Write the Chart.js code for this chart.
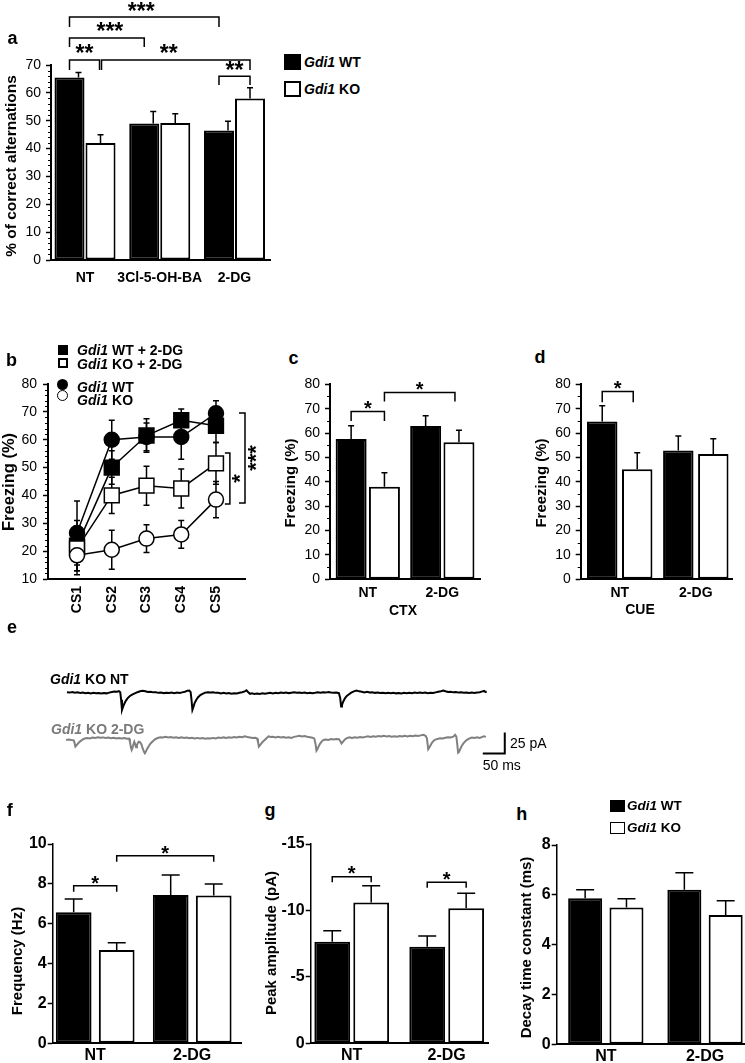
<!DOCTYPE html>
<html><head><meta charset="utf-8">
<script src="https://cdn.jsdelivr.net/npm/chart.js@4.4.0/dist/chart.umd.min.js"></script>
<style>
html,body{margin:0;padding:0;background:#fff;}
body{width:745px;height:1063px;position:relative;overflow:hidden;font-family:"Liberation Sans",Arial,Helvetica,sans-serif;color:#000;}
canvas{position:absolute;}
.lb{position:absolute;white-space:nowrap;line-height:1;}
.sq{position:absolute;box-sizing:border-box;}
</style></head><body>
<script>
// ---------------- DATA ----------------
// Panel a: spontaneous alternation
const aCategories = ['NT', '3Cl-5-OH-BA', '2-DG'];
const aWT = [65.5, 49, 46.5];
const aWTErr = [1.8, 4.3, 3.3];
const aKO = [42, 49.2, 58];
const aKOErr = [3, 3.3, 3.8];
// Panel b: freezing across CS presentations
const bCategories = ['CS1', 'CS2', 'CS3', 'CS4', 'CS5'];
const bWT2DG = [22, 50, 61.5, 67, 65];
const bWT2DGErr = [9, 6, 6, 4, 6];
const bKO2DG = [21, 40, 43.5, 42.5, 51.5];
const bKO2DGErr = [8, 6.5, 7, 7, 7.5];
const bWT = [26.5, 60, 61, 61, 69.5];
const bWTErr = [11.5, 7, 5, 8, 4.5];
const bKO = [18.5, 20.5, 24.5, 26, 38.5];
const bKOErr = [7, 7, 5, 5, 6.5];
// Panels c, d: contextual / cued freezing
const cdCategories = ['NT', '2-DG'];
const cWT = [57.6, 62.9];
const cWTErr = [5.4, 4.2];
const cKO = [38, 56.2];
const cKOErr = [5.7, 4.9];
const dWT = [64.7, 52.8];
const dWTErr = [6.5, 6];
const dKO = [45.1, 51.4];
const dKOErr = [6.8, 6.3];
// Panels f, g, h: mIPSC properties
const fghCategories = ['NT', '2-DG'];
const fWT = [6.57, 7.44];
const fWTErr = [0.67, 1.0];
const fKO = [4.68, 7.41];
const fKOErr = [0.37, 0.58];
const gWT = [-7.65, -7.27];
const gWTErr = [0.82, 0.8];
const gKO = [-10.6, -10.16];
const gKOErr = [1.26, 1.13];
const hWT = [5.86, 6.2];
const hWTErr = [0.34, 0.69];
const hKO = [5.49, 5.19];
const hKOErr = [0.35, 0.57];
// Panel e: example traces [time ms, current pA]
const traceNT = [[0,1.0],[6,0.5],[12,1.2],[18,0.3],[24,0.8],[30,0.0],[36,0.6],[42,-0.2],[48,0.4],[54,-0.5],[60,0.2],[66,-0.3],[72,0.1],[78,-0.6],[84,0.0],[90,-0.4],[96,0.5],[102,1.2],[108,1.8],[114,1.5],[118,2.2],[121,1.0],[123,-8],[125,-20],[127,-17],[130,-13],[134,-9],[138,-6],[143,-3.5],[148,-2],[154,-0.5],[160,1.0],[166,2.0],[172,2.6],[178,2.0],[184,1.2],[190,1.6],[196,0.8],[202,1.0],[208,0.2],[214,0.6],[220,-0.1],[226,0.4],[232,0.0],[238,0.6],[244,-0.2],[250,0.5],[256,0.1],[262,0.8],[268,1.5],[274,2.8],[278,3.0],[281,1.0],[283,-8],[285,-20],[287,-17],[290,-12],[294,-8],[298,-5],[303,-2.5],[308,-1],[314,0.5],[320,1.0],[326,0.6],[332,0.9],[338,0.2],[344,0.4],[350,-0.5],[356,0.2],[362,-0.6],[368,0.0],[374,-0.8],[380,-0.2],[386,-0.6],[392,0.4],[398,1.0],[404,2.0],[408,3.2],[412,0.8],[416,-1.0],[420,-0.3],[426,-1.2],[432,-0.5],[438,-1.0],[444,-0.2],[450,-0.8],[456,-0.3],[462,0.2],[468,-0.4],[474,0.3],[480,-0.2],[486,0.5],[492,0.0],[498,0.6],[504,-0.1],[510,0.4],[516,0.9],[522,0.3],[528,0.7],[534,0.1],[540,0.5],[546,-0.2],[552,0.3],[558,-0.3],[564,0.2],[570,0.8],[576,0.4],[582,1.0],[588,0.5],[594,1.2],[600,0.6],[606,0.2],[612,0.5],[618,-0.2],[621,-6],[623,-16],[625,-14],[628,-10],[632,-6],[636,-3.5],[641,-1.5],[646,0.5],[652,2.0],[658,3.0],[664,2.0],[670,1.6],[676,0.8],[682,1.5],[688,0.6],[694,1.0],[700,0.2],[706,0.7],[712,0.0],[718,0.4],[724,-0.3],[730,0.3],[736,-0.2],[742,0.4],[748,-0.4],[754,0.1],[760,-0.5],[766,0.2],[772,-0.3],[778,0.3],[784,-0.2],[790,0.5],[796,0.0],[802,0.6],[808,0.1],[814,0.5],[820,-0.2],[826,0.3],[832,0.0],[838,0.8],[844,1.5],[850,2.2],[855,3.0],[860,2.2],[866,1.2],[872,1.6],[878,0.8],[884,1.2],[890,0.5],[896,0.8],[902,0.2],[908,0.7],[914,0.0],[920,0.5],[926,0.1],[932,0.6],[938,1.0],[944,2.0],[948,2.5],[951,1.2],[954,1.5]];
const trace2DG = [[-2,-0.8],[4,-0.4],[10,-0.9],[15,-1.2],[17,-4],[19,-8.7],[22,-7],[26,-4.5],[30,-2.5],[35,-0.5],[40,0.8],[46,1.4],[52,1.0],[58,2.0],[64,1.6],[70,2.4],[76,1.8],[82,2.2],[88,1.4],[94,2.0],[100,1.2],[106,1.8],[112,1.0],[118,1.6],[124,1.0],[130,1.4],[136,0.6],[141,0.8],[143,-3],[145,-9],[147,-12.7],[149,-10],[151,-6],[153,-3],[155,-6],[157,-9.5],[159,-7],[161,-4.5],[163,-3],[166,-3.5],[169,-6],[172,-11],[175,-15],[177,-16.7],[179,-15],[182,-11.5],[186,-8],[190,-5],[195,-2.5],[200,0.0],[206,1.5],[212,2.4],[218,2.0],[224,2.8],[230,2.2],[236,2.6],[242,1.8],[248,2.4],[254,1.6],[260,2.2],[266,1.4],[272,2.0],[278,1.2],[284,1.8],[290,1.0],[296,1.6],[302,0.8],[308,1.4],[314,0.6],[320,1.2],[326,0.8],[332,1.6],[338,1.0],[344,2.0],[350,1.4],[356,2.2],[362,1.6],[368,2.4],[374,1.8],[380,2.6],[386,2.0],[392,3.0],[398,2.4],[404,3.4],[410,2.6],[416,2.0],[422,1.4],[428,1.8],[432,0.8],[434,-3],[436,-8.7],[438,-7.5],[441,-5.5],[444,-3.5],[448,-1.5],[453,1.0],[458,3.5],[463,2.6],[468,3.0],[474,2.2],[480,2.8],[486,2.0],[492,2.6],[498,1.8],[504,2.4],[510,1.6],[516,2.8],[522,3.4],[528,4.0],[534,3.4],[540,3.8],[546,3.0],[552,2.4],[558,1.8],[562,1.0],[565,-6],[567,-13.6],[569,-12],[572,-8.5],[575,-5.5],[579,-2.5],[583,-0.8],[588,-0.2],[594,-0.8],[600,0.2],[606,-0.4],[612,0.4],[618,0.0],[621,-2],[624,-5],[627,-3],[631,-0.5],[636,1.4],[642,2.2],[648,1.6],[654,2.4],[660,1.8],[666,2.6],[672,2.0],[678,2.8],[684,3.4],[690,2.8],[696,3.6],[702,3.0],[708,3.8],[714,3.2],[720,4.0],[726,3.4],[732,3.8],[738,3.0],[744,3.6],[750,3.0],[756,3.8],[762,3.2],[768,4.0],[774,3.4],[780,4.2],[786,3.6],[792,4.4],[798,3.8],[804,4.6],[810,5.2],[815,4.0],[818,1.0],[821,-12],[823,-10.5],[826,-7.5],[829,-4.5],[833,-2],[836,-0.8],[842,0.4],[848,1.2],[854,0.8],[860,1.8],[866,2.4],[872,2.0],[878,3.0],[882,5.2],[885,3.0],[887,-6],[889,-16],[891,-15],[894,-11.5],[897,-8],[901,-5],[905,-2.5],[909,-0.8],[914,0.8],[920,2.0],[926,1.4],[932,2.4],[938,1.6],[944,2.8],[948,3.6],[952,2.8]];
const scaleBarMs = 50;
const scaleBarPA = 25;

// ---------------- HELPERS ----------------
const FONT = '"Liberation Sans", Arial, Helvetica, sans-serif';
Chart.defaults.font.family = FONT;
Chart.defaults.color = '#000';

function mkCanvas(box) {
  const c = document.createElement('canvas');
  c.width = box.w; c.height = box.h;
  c.style.left = box.x + 'px'; c.style.top = box.y + 'px';
  c.style.width = box.w + 'px'; c.style.height = box.h + 'px';
  document.body.appendChild(c);
  return c;
}
function padOf(box, area) {
  return {left: 0, right: box.x + box.w - area.r, top: area.t - box.y, bottom: 0};
}
function drawStars(ctx, text, cx, cy, font, rot) {
  ctx.save();
  ctx.font = font; ctx.fillStyle = '#000'; ctx.textAlign = 'center'; ctx.textBaseline = 'alphabetic';
  const m = ctx.measureText(text);
  const off = (m.actualBoundingBoxAscent - m.actualBoundingBoxDescent) / 2;
  ctx.translate(cx, cy);
  if (rot) ctx.rotate(rot);
  ctx.fillText(text, 0, off);
  ctx.restore();
}
function drawErrors(chart, cfg) {
  const ctx = chart.ctx, ys = chart.scales.y;
  ctx.save(); ctx.strokeStyle = '#000'; ctx.lineWidth = cfg.errW; ctx.lineCap = 'butt';
  chart.data.datasets.forEach((ds, di) => {
    if (!ds.errors) return;
    chart.getDatasetMeta(di).data.forEach((el, i) => {
      const v = ds.data[i].y, e = ds.errors[i];
      const x = el.x + (ds.errDx || 0);
      const hw = cfg.capW / 2;
      ctx.beginPath();
      if (cfg.twoSided) {
        const y1 = ys.getPixelForValue(v - e), y2 = ys.getPixelForValue(v + e);
        ctx.moveTo(x, y1); ctx.lineTo(x, y2);
        ctx.moveTo(x - hw, y1); ctx.lineTo(x + hw, y1);
        ctx.moveTo(x - hw, y2); ctx.lineTo(x + hw, y2);
      } else {
        const sg = v < 0 ? -1 : 1;
        const yt = ys.getPixelForValue(v + sg * e);
        ctx.moveTo(x, el.y); ctx.lineTo(x, yt);
        ctx.moveTo(x - hw, yt); ctx.lineTo(x + hw, yt);
      }
      ctx.stroke();
    });
  });
  ctx.restore();
}
function drawMinor(chart, cfg) {
  if (!cfg.minor) return;
  const ys = chart.scales.y, ctx = chart.ctx, x0 = chart.chartArea.left;
  ctx.save(); ctx.strokeStyle = '#000'; ctx.lineWidth = 1;
  for (let v = ys.min; v <= ys.max + 1e-9; v += cfg.minor) {
    const r = Math.abs(v / cfg.y.step - Math.round(v / cfg.y.step));
    if (r < 1e-6) continue;
    const y = Math.round(ys.getPixelForValue(v)) + 0.5;
    ctx.beginPath(); ctx.moveTo(x0 - cfg.minorLen, y); ctx.lineTo(x0, y); ctx.stroke();
  }
  ctx.restore();
}
function drawBrackets(chart, cfg) {
  const ctx = chart.ctx, ys = chart.scales.y;
  ctx.save(); ctx.strokeStyle = '#000'; ctx.lineWidth = cfg.brW;
  (cfg.brackets || []).forEach(b => {
    const xa = chart.getDatasetMeta(b.from[0]).data[b.from[1]].x + (b.dxFrom || 0);
    const xb = chart.getDatasetMeta(b.to[0]).data[b.to[1]].x + (b.dxTo || 0);
    const yl = ys.getPixelForValue(b.level);
    const ya = ys.getPixelForValue(b.dropFrom !== undefined ? b.dropFrom : b.drop);
    const yb = ys.getPixelForValue(b.dropTo !== undefined ? b.dropTo : b.drop);
    ctx.beginPath(); ctx.moveTo(xa, ya); ctx.lineTo(xa, yl); ctx.lineTo(xb, yl); ctx.lineTo(xb, yb); ctx.stroke();
    drawStars(ctx, b.text, (xa + xb) / 2 + (b.sdx || 0), yl - cfg.starGap, cfg.starFont, 0);
  });
  (cfg.vbrackets || []).forEach(b => {
    const xs = chart.scales.x;
    const x = xs.getPixelForValue(b.x);
    const y1 = ys.getPixelForValue(b.y1), y2 = ys.getPixelForValue(b.y2);
    ctx.beginPath(); ctx.moveTo(x - b.tick, y1); ctx.lineTo(x, y1); ctx.lineTo(x, y2); ctx.lineTo(x - b.tick, y2); ctx.stroke();
    drawStars(ctx, b.text, x + b.tdx, (y1 + y2) / 2 + (b.tdy || 0), cfg.starFont, -Math.PI / 2);
  });
  ctx.restore();
}
function drawTitle(chart, cfg) {
  const t = cfg.yTitle; if (!t) return;
  const ctx = chart.ctx;
  ctx.save();
  ctx.font = 'bold ' + t.size + 'px ' + FONT; ctx.fillStyle = '#000';
  ctx.textAlign = 'center'; ctx.textBaseline = 'middle';
  ctx.translate(t.x - cfg.box.x, t.y - cfg.box.y); ctx.rotate(-Math.PI / 2);
  ctx.fillText(t.text, 0, 0);
  ctx.restore();
}
function decorPlugin(cfg) {
  return {
    id: 'decor',
    beforeDatasetsDraw(chart) { if (cfg.errBehind) drawErrors(chart, cfg); },
    afterDatasetsDraw(chart) { if (!cfg.errBehind) drawErrors(chart, cfg); },
    afterDraw(chart) { drawMinor(chart, cfg); drawBrackets(chart, cfg); drawTitle(chart, cfg); }
  };
}
function yScale(cfg) {
  return {
    min: cfg.y.min, max: cfg.y.max, reverse: !!cfg.y.reverse,
    afterFit: s => { s.width = cfg.area.l - cfg.box.x; },
    ticks: {stepSize: cfg.y.step, color: '#000', padding: cfg.y.pad,
            font: {family: FONT, size: cfg.y.size, weight: cfg.y.weight}},
    grid: {display: true, drawOnChartArea: false, drawTicks: true, tickLength: cfg.y.tickLen,
           tickWidth: cfg.y.tickW, tickColor: '#000'},
    border: {display: true, color: '#000', width: cfg.y.axisW}
  };
}
function xScale(cfg) {
  return {
    type: 'linear', offset: false, min: cfg.xMin, max: cfg.xMax,
    afterBuildTicks: s => { s.ticks = cfg.labels.map((l, i) => ({value: i + 1})); },
    afterFit: s => { s.height = cfg.box.y + cfg.box.h - cfg.area.b; },
    ticks: {callback: v => cfg.labels[v - 1], autoSkip: false,
            maxRotation: cfg.xRot || 0, minRotation: cfg.xRot || 0,
            color: '#000', padding: cfg.xPad, font: {family: FONT, size: cfg.xFont, weight: 'bold'}},
    grid: {display: false, drawTicks: false, tickLength: 0},
    border: {display: true, color: '#000', width: cfg.xAxisW}
  };
}
function barPanel(cfg) {
  const cv = mkCanvas(cfg.box);
  const datasets = cfg.series.map(s => ({
    data: s.values.map((v, i) => ({x: i + 1, y: v})),
    errors: s.errors, errDx: s.errDx || 0,
    backgroundColor: s.fill, borderColor: '#000', borderWidth: cfg.barBorder, borderSkipped: false,
    categoryPercentage: cfg.catPct, barPercentage: cfg.barPct
  }));
  return new Chart(cv, {
    type: 'bar',
    data: {datasets},
    options: {
      responsive: false, animation: false, events: [], devicePixelRatio: 1,
      layout: {padding: padOf(cfg.box, cfg.area)},
      plugins: {legend: {display: false}, tooltip: {enabled: false}},
      scales: {x: xScale(cfg), y: yScale(cfg)}
    },
    plugins: [decorPlugin(cfg)]
  });
}
function label(html, x, y, o) {
  const d = document.createElement('div');
  d.className = 'lb';
  d.innerHTML = html;
  d.style.left = x + 'px'; d.style.top = y + 'px';
  d.style.fontSize = (o.size || 14) + 'px';
  d.style.fontWeight = o.weight || 'bold';
  if (o.color) d.style.color = o.color;
  d.style.transform = o.left ? 'translate(0,-50%)' : 'translate(-50%,-50%)';
  document.body.appendChild(d);
}
function box(x, y, w, h, fill, bw) {
  const d = document.createElement('div');
  d.className = 'sq';
  Object.assign(d.style, {left: x + 'px', top: y + 'px', width: w + 'px', height: h + 'px',
    background: fill, border: bw + 'px solid #000'});
  document.body.appendChild(d);
  return d;
}

const STAR = (s) => 'bold ' + s + 'px ' + FONT;
const axA = {size: 14, weight: 'normal', pad: 5, tickLen: 5, tickW: 1.5, axisW: 2};

// ---------------- PANEL a ----------------
barPanel({
  box: {x: 0, y: 0, w: 282, h: 290}, area: {l: 51, t: 65, r: 270, b: 260},
  labels: aCategories,
  series: [{values: aWT, errors: aWTErr, fill: '#000', errDx: 9}, {values: aKO, errors: aKOErr, fill: '#fff'}],
  xMin: 0.545, xMax: 3.475, catPct: 0.83, barPct: 0.968, barBorder: 2,
  y: Object.assign({min: 0, max: 70, step: 10}, axA),
  minor: 2, minorLen: 3,
  xFont: 14, xPad: 10, xAxisW: 2,
  errW: 1.5, capW: 6,
  brW: 1.5, starGap: 11, starFont: STAR(23),
  brackets: [
    {from: [0, 0], to: [0, 2], level: 87.2, drop: 83.6, text: '***', sdx: -3},
    {from: [0, 0], to: [0, 1], level: 79.7, drop: 76.5, text: '***', sdx: 3},
    {from: [0, 0], to: [1, 0], level: 71.8, drop: 68.2, text: '**', dxTo: -1},
    {from: [1, 0], to: [1, 2], level: 71.8, drop: 68.2, text: '**', dxFrom: 1, sdx: -7},
    {from: [0, 2], to: [1, 2], level: 66.0, drop: 62.8, text: '**'}
  ],
  yTitle: {text: '% of correct alternations', x: 12, y: 166, size: 15.5}
});

// ---------------- PANEL b ----------------
(function () {
  const cfg = {
    box: {x: 0, y: 335, w: 285, h: 300}, area: {l: 48, t: 384, r: 245, b: 579},
    labels: bCategories, xMin: 0.165, xMax: 5.835, xRot: 90, xFont: 14, xPad: 7, xAxisW: 2,
    y: Object.assign({min: 10, max: 80, step: 10}, axA, {pad: 6}),
    minor: 2, minorLen: 3,
    errW: 1.5, capW: 6, twoSided: true, errBehind: true,
    brW: 1.5, starFont: STAR(22),
    vbrackets: [
      {x: 5.835, y1: 69.6, y2: 37.3, tick: 6, text: '***', tdx: 7.5},
      {x: 5.40, y1: 55.2, y2: 36.9, tick: 5, text: '*', tdx: 7}
    ],
    yTitle: {text: 'Freezing (%)', x: 9, y: 482, size: 16.5}
  };
  const mk = (vals, errs, style, fill, r) => ({
    data: vals.map((v, i) => ({x: i + 1, y: v})), errors: errs,
    borderColor: '#000', borderWidth: 1.5, tension: 0, fill: false,
    pointStyle: style, pointRadius: r, pointBackgroundColor: fill, pointBorderColor: '#000', pointBorderWidth: 1.5
  });
  const cv = mkCanvas(cfg.box);
  new Chart(cv, {
    type: 'line',
    data: {datasets: [
      mk(bKO, bKOErr, 'circle', '#fff', 7.5),
      mk(bWT, bWTErr, 'circle', '#000', 7.5),
      mk(bKO2DG, bKO2DGErr, 'rect', '#fff', 10.5),
      mk(bWT2DG, bWT2DGErr, 'rect', '#000', 10.5)
    ]},
    options: {
      responsive: false, animation: false, events: [], devicePixelRatio: 1,
      layout: {padding: padOf(cfg.box, cfg.area)},
      plugins: {legend: {display: false}, tooltip: {enabled: false}},
      scales: {x: xScale(cfg), y: yScale(cfg)}
    },
    plugins: [decorPlugin(cfg)]
  });
})();

// ---------------- PANEL c ----------------
barPanel({
  box: {x: 285, y: 370, w: 200, h: 250}, area: {l: 330, t: 384.3, r: 480, b: 579.3},
  labels: cdCategories,
  series: [{values: cWT, errors: cWTErr, fill: '#000'}, {values: cKO, errors: cKOErr, fill: '#fff'}],
  xMin: 0.493, xMax: 2.506, catPct: 0.894, barPct: 0.93, barBorder: 2,
  y: Object.assign({min: 0, max: 80, step: 10}, axA),
  minor: 5, minorLen: 3,
  xFont: 14, xPad: 5, xAxisW: 2,
  errW: 1.5, capW: 6,
  brW: 1.5, starGap: 6.5, starFont: STAR(20),
  brackets: [
    {from: [0, 0], to: [1, 0], level: 68.8, drop: 64.9, text: '*'},
    {from: [1, 0], to: [1, 1], level: 76.6, drop: 72.9, text: '*', dxTo: -4}
  ],
  yTitle: {text: 'Freezing (%)', x: 291, y: 483, size: 15}
});

// ---------------- PANEL d ----------------
barPanel({
  box: {x: 530, y: 370, w: 215, h: 250}, area: {l: 580.7, t: 384.3, r: 732.7, b: 579.3},
  labels: cdCategories,
  series: [{values: dWT, errors: dWTErr, fill: '#000'}, {values: dKO, errors: dKOErr, fill: '#fff'}],
  xMin: 0.487, xMax: 2.485, catPct: 0.92, barPct: 0.87, barBorder: 2,
  y: Object.assign({min: 0, max: 80, step: 10}, axA),
  minor: 5, minorLen: 3,
  xFont: 14, xPad: 5, xAxisW: 2,
  errW: 1.5, capW: 6,
  brW: 1.5, starGap: 6.5, starFont: STAR(20),
  brackets: [
    {from: [0, 0], to: [1, 0], level: 77, drop: 72.6, text: '*', dxTo: -4}
  ],
  yTitle: {text: 'Freezing (%)', x: 541.7, y: 483, size: 15}
});

// ---------------- PANEL e (traces) ----------------
(function () {
  const OFFSET_2DG = -55;       // vertical separation of the two traces (pA)
  const barT = 945, barI = -72; // scale bar anchor
  const cv = mkCanvas({x: 60, y: 670, w: 460, h: 100});
  new Chart(cv, {
    type: 'line',
    data: {datasets: [
      {data: traceNT.map(p => ({x: p[0], y: p[1]})), borderColor: '#000', borderWidth: 2, pointRadius: 0, tension: 0},
      {data: trace2DG.map(p => ({x: p[0], y: p[1] + OFFSET_2DG})), borderColor: '#808080', borderWidth: 2, pointRadius: 0, tension: 0},
      {data: [{x: barT, y: barI}, {x: barT + scaleBarMs, y: barI}, {x: barT + scaleBarMs, y: barI + scaleBarPA}],
       borderColor: '#000', borderWidth: 2, pointRadius: 0, tension: 0}
    ]},
    options: {
      responsive: false, animation: false, events: [], devicePixelRatio: 1,
      layout: {padding: 0},
      plugins: {legend: {display: false}, tooltip: {enabled: false}},
      scales: {
        x: {type: 'linear', display: false, min: -15.9, max: 1029.6},
        y: {type: 'linear', display: false, min: -91.6, max: 27.4}
      }
    }
  });
})();

// ---------------- PANEL f ----------------
const axF = {size: 16, weight: 'bold', pad: 1, tickLen: 5, tickW: 1.5, axisW: 1.5};
barPanel({
  box: {x: 0, y: 830, w: 250, h: 233}, area: {l: 52.7, t: 844, r: 241, b: 1043.3},
  labels: fghCategories,
  series: [{values: fWT, errors: fWTErr, fill: '#000'}, {values: fKO, errors: fKOErr, fill: '#fff'}],
  xMin: 0.562, xMax: 2.503, catPct: 0.887, barPct: 0.83, barBorder: 2,
  y: Object.assign({min: 0, max: 10, step: 2}, axF),
  xFont: 16, xPad: 3, xAxisW: 2,
  errW: 1.5, capW: 18,
  brW: 1.5, starGap: 5.7, starFont: STAR(20),
  brackets: [
    {from: [0, 0], to: [1, 0], level: 7.91, drop: 7.61, text: '*'},
    {from: [1, 0], to: [1, 1], level: 9.41, drop: 9.11, text: '*'}
  ],
  yTitle: {text: 'Frequency (Hz)', x: 18, y: 961, size: 15}
});

// ---------------- PANEL g ----------------
barPanel({
  box: {x: 255, y: 830, w: 240, h: 233}, area: {l: 310.7, t: 844, r: 488, b: 1043.3},
  labels: fghCategories,
  series: [{values: gWT, errors: gWTErr, fill: '#000'}, {values: gKO, errors: gKOErr, fill: '#fff'}],
  xMin: 0.568, xMax: 2.435, catPct: 0.82, barPct: 0.92, barBorder: 2,
  y: Object.assign({min: -15, max: 0, step: 5, reverse: true}, axF),
  xFont: 16, xPad: 3, xAxisW: 2,
  errW: 1.5, capW: 18,
  brW: 1.5, starGap: 6.5, starFont: STAR(20),
  brackets: [
    {from: [0, 0], to: [1, 0], level: -12.54, drop: -12.12, text: '*'},
    {from: [0, 1], to: [1, 1], level: -12.12, drop: -11.71, text: '*'}
  ],
  yTitle: {text: 'Peak amplitude (pA)', x: 271.7, y: 943, size: 15}
});

// ---------------- PANEL h ----------------
barPanel({
  box: {x: 505, y: 830, w: 240, h: 233}, area: {l: 556.7, t: 845, r: 745, b: 1044.3},
  labels: fghCategories,
  series: [{values: hWT, errors: hWTErr, fill: '#000'}, {values: hKO, errors: hKOErr, fill: '#fff'}],
  xMin: 0.505, xMax: 2.403, catPct: 0.833, barPct: 0.823, barBorder: 2,
  y: Object.assign({min: 0, max: 8, step: 2}, axF),
  xFont: 16, xPad: 3, xAxisW: 2,
  errW: 1.5, capW: 18,
  brW: 1.5, starGap: 6, starFont: STAR(20),
  brackets: [],
  yTitle: {text: 'Decay time constant (ms)', x: 526.7, y: 947.5, size: 15}
});

// ---------------- TEXT / LEGENDS ----------------
label('a', 12.5, 37.5, {size: 18});
label('b', 11.5, 360, {size: 18});
label('c', 293.5, 358, {size: 18});
label('d', 540, 357, {size: 18});
label('e', 12, 627, {size: 18});
label('f', 9.7, 810, {size: 18});
label('g', 270, 810, {size: 18});
label('h', 521.7, 814, {size: 18});

// legend a
box(284, 54, 17, 16, '#000', 0);
box(284, 81, 17, 16, '#fff', 2.5);
label('<i>Gdi1</i> WT', 304, 62, {size: 14, left: true});
label('<i>Gdi1</i> KO', 304, 89, {size: 14, left: true});

// legend b
box(58, 345, 10, 10, '#000', 0);
box(58, 358, 10, 10, '#fff', 2);
const c1 = box(56.5, 378.8, 11, 11, '#000', 0); c1.style.borderRadius = '50%';
const c2 = box(56.5, 389.5, 11, 11, '#fff', 1.5); c2.style.borderRadius = '50%';
label('<i>Gdi1</i> WT + 2-DG', 77, 350, {size: 14, left: true});
label('<i>Gdi1</i> KO + 2-DG', 77, 364, {size: 14, left: true});
label('<i>Gdi1</i> WT', 77, 386.7, {size: 14, left: true});
label('<i>Gdi1</i> KO', 77, 400, {size: 14, left: true});

// axis group labels c, d
label('CTX', 403, 610, {size: 14});
label('CUE', 640, 609, {size: 14});

// traces e
label('<i>Gdi1</i> KO NT', 50, 679, {size: 14, left: true});
label('<i>Gdi1</i> KO 2-DG', 51, 729, {size: 14, left: true, color: '#7a7a7a'});
label('25 pA', 510, 742.5, {size: 14, weight: 'normal', left: true});
label('50 ms', 482.7, 764.7, {size: 14, weight: 'normal', left: true});

// legend h
box(610, 800, 15, 12, '#000', 0);
box(610, 821.7, 15, 12, '#fff', 1.5);
label('<i>Gdi1</i> WT', 627, 806, {size: 13.5, left: true});
label('<i>Gdi1</i> KO', 627, 827.5, {size: 13.5, left: true});
</script>
</body></html>
